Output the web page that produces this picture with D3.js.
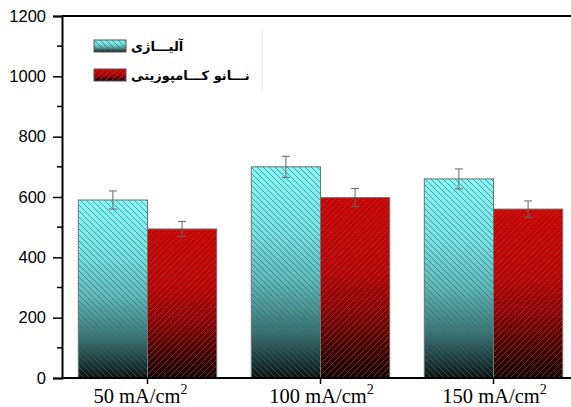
<!DOCTYPE html>
<html>
<head>
<meta charset="utf-8">
<script src="https://cdn.jsdelivr.net/npm/d3@7"></script>
<style>
  html, body { margin: 0; padding: 0; background: #fff; }
  svg { display: block; }
</style>
</head>
<body>
<svg id="chart" width="571" height="407"></svg>
<script>
// Current density groups and the two materials compared
const categories = ["50", "100", "150"];
const seriesNames = ["آلیـــاژی", "نـــانو کـــامپوزیتی"];
const alloyValues = [590, 700, 660];
const alloyErrors = [30, 35, 33];
const nanoValues = [494, 598, 560];
const nanoErrors = [25, 30, 27];
const yTicks = [0, 200, 400, 600, 800, 1000, 1200];
const yMinorTicks = [100, 300, 500, 700, 900, 1100];

const series = [
  { name: seriesNames[0], values: alloyValues, errors: alloyErrors, key: "alloy" },
  { name: seriesNames[1], values: nanoValues, errors: nanoErrors, key: "nano" }
];

const svg = d3.select("#chart");

const x = d3.scaleBand().domain(categories)
  .range([61, 580]).paddingInner(0.2).paddingOuter(0.1);
const xInner = d3.scaleBand().domain(series.map(s => s.key))
  .range([0, x.bandwidth()]);
const y = d3.scaleLinear().domain([0, 1200]).range([378, 16]);

// Gradients and hatch patterns
const defs = svg.append("defs");
const gradStops = {
  alloy: [[0, "#84fcfc"], [0.3, "#72e4e4"], [0.55, "#5ab8b8"], [0.78, "#357474"], [1, "#081414"]],
  nano: [[0, "#d40000"], [0.4, "#c00000"], [0.62, "#920000"], [0.84, "#4a0000"], [1, "#1a0000"]]
};
Object.entries(gradStops).forEach(([k, stops]) => {
  const g = defs.append("linearGradient").attr("id", "grad-" + k)
    .attr("x1", 0).attr("y1", 0).attr("x2", 0).attr("y2", 1);
  stops.forEach(([o, c]) => g.append("stop").attr("offset", o).attr("stop-color", c));
});
const hatch = (id, dir) => {
  const p = defs.append("pattern").attr("id", id)
    .attr("patternUnits", "userSpaceOnUse").attr("width", 6).attr("height", 6);
  const d = dir === "back"
    ? "M-1,-1 L7,7 M-4,2 L2,8 M4,-2 L8,2"
    : "M-1,7 L7,-1 M-4,4 L2,-2 M4,8 L8,4";
  p.append("path").attr("d", d).attr("stroke", "#5a5a5a")
    .attr("stroke-width", 0.9).attr("stroke-opacity", 0.75).attr("fill", "none");
};
hatch("hatch-alloy", "back");
hatch("hatch-nano", "fwd");

// Bars
const groups = svg.append("g").selectAll("g").data(series).join("g");
groups.each(function (s) {
  const g = d3.select(this);
  const data = categories.map((c, i) => ({ c, v: s.values[i], e: s.errors[i] }));
  ["grad", "hatch"].forEach(layer => {
    g.selectAll("rect." + layer).data(data).join("rect")
      .attr("class", layer)
      .attr("x", d => x(d.c) + xInner(s.key))
      .attr("y", d => y(d.v))
      .attr("width", xInner.bandwidth())
      .attr("height", d => y(0) - y(d.v))
      .attr("fill", `url(#${layer}-${s.key})`)
      .attr("stroke", layer === "hatch" ? "#707070" : "none")
      .attr("stroke-width", 1);
  });
  // Error bars
  const eb = g.selectAll("g.err").data(data).join("g").attr("class", "err")
    .attr("stroke", "#666").attr("stroke-width", 1);
  const cx = d => x(d.c) + xInner(s.key) + xInner.bandwidth() / 2;
  eb.append("line").attr("x1", cx).attr("x2", cx)
    .attr("y1", d => y(d.v + d.e)).attr("y2", d => y(d.v - d.e));
  [1, -1].forEach(sign => {
    eb.append("line").attr("x1", d => cx(d) - 4).attr("x2", d => cx(d) + 4)
      .attr("y1", d => y(d.v + sign * d.e)).attr("y2", d => y(d.v + sign * d.e));
  });
});

// Top frame line
svg.append("line").attr("x1", 62).attr("x2", 571).attr("y1", 16).attr("y2", 16)
  .attr("stroke", "#000").attr("stroke-width", 2);

// Y axis
const yAxis = svg.append("g").attr("transform", "translate(62,0)")
  .call(d3.axisLeft(y).tickValues(yTicks).tickSize(9).tickPadding(7).tickFormat(d3.format("d")));
yAxis.select(".domain").attr("stroke-width", 2);
yAxis.selectAll(".tick line").attr("stroke-width", 1.5);
yAxis.selectAll("text").attr("font-family", "Liberation Sans, Arial, sans-serif")
  .attr("font-size", 16.5).attr("fill", "#000");
svg.append("g").attr("transform", "translate(62,0)")
  .selectAll("line").data(yMinorTicks).join("line")
  .attr("x1", -5).attr("x2", 0).attr("y1", d => y(d)).attr("y2", d => y(d))
  .attr("stroke", "#000").attr("stroke-width", 1.5);

// X axis
const xAxis = svg.append("g").attr("transform", "translate(0,378)")
  .call(d3.axisBottom(x).tickSize(6).tickFormat(""));
xAxis.select(".domain").attr("d", "M62,0H571").attr("stroke-width", 2);
xAxis.selectAll(".tick line").attr("stroke-width", 1.5);
const xl = svg.append("g").selectAll("text").data(categories).join("text")
  .attr("x", (d, i) => x(d) + x.bandwidth() / 2 + (i === 0 ? -7 : 1))
  .attr("y", 403)
  .attr("text-anchor", "middle")
  .attr("font-family", "Liberation Serif, Times New Roman, serif")
  .attr("font-size", 20.5).attr("fill", "#000");
xl.append("tspan").text(d => d + " mA/cm");
xl.append("tspan").text("2").attr("font-size", 14).attr("dy", -9);

// Legend
const legend = svg.append("g");
legend.append("line").attr("x1", 262).attr("x2", 262).attr("y1", 30).attr("y2", 92)
  .attr("stroke", "#e4e4e4").attr("stroke-width", 1);
series.forEach((s, i) => {
  const ly = 40 + i * 29;
  ["grad", "hatch"].forEach(layer => {
    legend.append("rect").attr("x", 94).attr("y", ly).attr("width", 32).attr("height", 12)
      .attr("fill", `url(#${layer}-${s.key})`)
      .attr("stroke", layer === "hatch" ? "#555" : "none");
  });
  legend.append("text").attr("x", 131).attr("y", ly + 11)
    .attr("font-family", "DejaVu Sans, sans-serif").attr("font-weight", "bold")
    .attr("font-size", 13).attr("fill", "#000").text(s.name);
});
</script>
</body>
</html>
